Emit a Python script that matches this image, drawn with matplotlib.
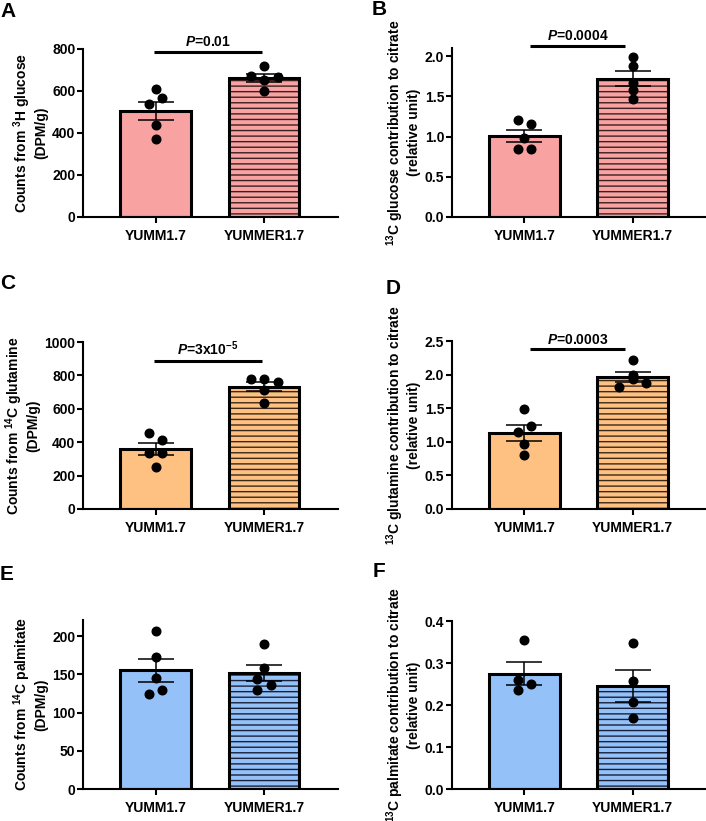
import numpy as np
import matplotlib
matplotlib.use('Agg')
import matplotlib.pyplot as plt

plt.rcParams['font.family'] = ['Liberation Sans', 'DejaVu Sans']
plt.rcParams['font.weight'] = 'bold'
plt.rcParams['axes.labelweight'] = 'bold'
plt.rcParams['font.size'] = 10
plt.rcParams['mathtext.fontset'] = 'custom'
plt.rcParams['mathtext.rm'] = 'Liberation Sans:bold'
plt.rcParams['mathtext.bf'] = 'Liberation Sans:bold'
plt.rcParams['mathtext.it'] = 'Liberation Sans:bold:italic'
plt.rcParams['hatch.linewidth'] = 1.0

groups = ['YUMM1.7', 'YUMMER1.7']

# individual measurements per panel (YUMM1.7, YUMMER1.7)
gluc_counts_yumm = [611, 568, 537, 438, 370]
gluc_counts_yummer = [720, 671, 668, 651, 600]
gluc_citrate_yumm = [1.21, 1.15, 0.98, 0.85, 0.85]
gluc_citrate_yummer = [1.99, 1.88, 1.67, 1.58, 1.47]
gln_counts_yumm = [455, 416, 338, 334, 254]
gln_counts_yummer = [777, 777, 763, 712, 632]
gln_citrate_yumm = [1.49, 1.24, 1.14, 0.97, 0.80]
gln_citrate_yummer = [2.21, 1.99, 1.93, 1.82, 1.87]
palm_counts_yumm = [206, 172, 145, 130, 124]
palm_counts_yummer = [189, 158, 144, 136, 130]
palm_citrate_yumm = [0.354, 0.259, 0.251, 0.235]
palm_citrate_yummer = [0.348, 0.256, 0.206, 0.169]

# horizontal swarm slots for the dots
slots = {
    'A': ([0, 1, -1, 0, 0], [0, -2, 2, 0, 0]),
    'B': ([-1, 1, 0, -1, 1], [0, 0, 0, 0, 0]),
    'C': ([-1, 1, -1, 1, 0], [-2, 0, 2, 0, 0]),
    'D': ([0, 1, -1, 0, 0], [0, 0, 0, -2, 2]),
    'E': ([0, 0, 0, 1, -1], [0, 0, -1, 1, -1]),
    'F': ([0, -1, 1, -1], [0, 0, 0, 0]),
}

pink = '#F8A2A2'
orange = '#FEC182'
blue = '#94C1F7'

panels = [
    ('A', gluc_counts_yumm, gluc_counts_yummer, pink, '#3a2020',
     'Counts from $^{3}$H glucose\n(DPM/g)', (0, 800), np.arange(0, 801, 200), None,
     '$P$=0.01', 787),
    ('B', gluc_citrate_yumm, gluc_citrate_yummer, pink, '#3a2020',
     '$^{13}$C glucose contribution to citrate\n(relative unit)', (0, 2.1),
     [0.0, 0.5, 1.0, 1.5, 2.0], '%.1f', '$P$=0.0004', 2.125),
    ('C', gln_counts_yumm, gln_counts_yummer, orange, '#3a2818',
     'Counts from $^{14}$C glutamine\n(DPM/g)', (0, 1000), np.arange(0, 1001, 200), None,
     '$P$=3x10$^{-5}$', 887),
    ('D', gln_citrate_yumm, gln_citrate_yummer, orange, '#3a2818',
     '$^{13}$C glutamine contribution to citrate\n(relative unit)', (0, 2.5),
     [0.0, 0.5, 1.0, 1.5, 2.0, 2.5], '%.1f', '$P$=0.0003', 2.376),
    ('E', palm_counts_yumm, palm_counts_yummer, blue, '#18203a',
     'Counts from $^{14}$C palmitate\n(DPM/g)', (0, 221), np.arange(0, 201, 50), None,
     None, None),
    ('F', palm_citrate_yumm, palm_citrate_yummer, blue, '#18203a',
     '$^{13}$C palmitate contribution to citrate\n(relative unit)', (0, 0.4),
     [0.0, 0.1, 0.2, 0.3, 0.4], '%.1f', None, None),
]

W, H = 706, 821
fig = plt.figure(figsize=(W / 100, H / 100), dpi=100)

# axes boxes in pixels: left, top, right, bottom
boxes = {
    'A': (83, 49, 338, 217), 'B': (452, 48, 706, 217),
    'C': (83, 342, 338, 509), 'D': (452, 341, 706, 509),
    'E': (83, 620, 338, 789), 'F': (452, 621, 706, 789),
}
letters = {'A': (0, 2), 'B': (372, 0), 'C': (0, 274), 'D': (386, 279),
           'E': (0, 565), 'F': (373, 562)}

x = np.arange(2)
step = 0.062
for key, v1, v2, fill, hcol, ylab, ylim, yticks, fmt, ptxt, py in panels:
    l, t, r, b = boxes[key]
    ax = fig.add_axes([l / W, 1 - b / H, (r - l) / W, (b - t) / H])
    data = [np.array(v1), np.array(v2)]
    means = [d.mean() for d in data]
    sems = [d.std(ddof=1) / np.sqrt(len(d)) for d in data]

    ax.bar(x[0], means[0], width=0.65, color=fill, edgecolor='black', linewidth=2.2, zorder=2)
    ax.bar(x[1], means[1], width=0.65, color=fill, edgecolor=hcol, linewidth=0,
           hatch='---', zorder=2)
    ax.bar(x[1], means[1], width=0.65, fill=False, edgecolor='black', linewidth=2.2, zorder=3)
    ax.errorbar(x, means, yerr=sems, fmt='none', ecolor='black', elinewidth=1.1,
                capsize=13, capthick=1.1, zorder=4)
    for i, d in enumerate(data):
        off = np.array(slots[key][i]) * step
        ax.plot(x[i] + off, d, 'o', color='black', markersize=6.2, zorder=5, clip_on=False)

    ax.set_xlim(-0.67, 1.68)
    ax.set_ylim(*ylim)
    ax.set_yticks(yticks)
    if fmt:
        ax.set_yticklabels([fmt % v for v in yticks])
    ax.set_xticks(x)
    ax.set_xticklabels(groups)
    for s in ['top', 'right']:
        ax.spines[s].set_visible(False)
    for s in ['left', 'bottom']:
        ax.spines[s].set_linewidth(1.5)
    ax.tick_params(axis='both', width=1.5, length=4, labelsize=10)
    ax.tick_params(axis='y', pad=1.5)
    ax.tick_params(axis='x', pad=4.5)
    ax.set_ylabel(ylab, fontsize=10, labelpad=3, linespacing=1.1)

    if ptxt:
        x0, x1 = (-0.02, 0.98) if key in 'AC' else (0.05, 0.93)
        ax.plot([x0, x1], [py, py], color='black', linewidth=2.2, clip_on=False,
                solid_capstyle='butt')
        ax.annotate(ptxt, xy=((x0 + x1) / 2, py), xytext=(0, 2),
                    textcoords='offset points', ha='center', va='bottom',
                    fontsize=10, annotation_clip=False)

    lx, ly = letters[key]
    fig.text(lx / W, 1 - ly / H, key, fontsize=15, fontweight='bold', va='top', ha='left')

fig.savefig('out.png', dpi=100)
